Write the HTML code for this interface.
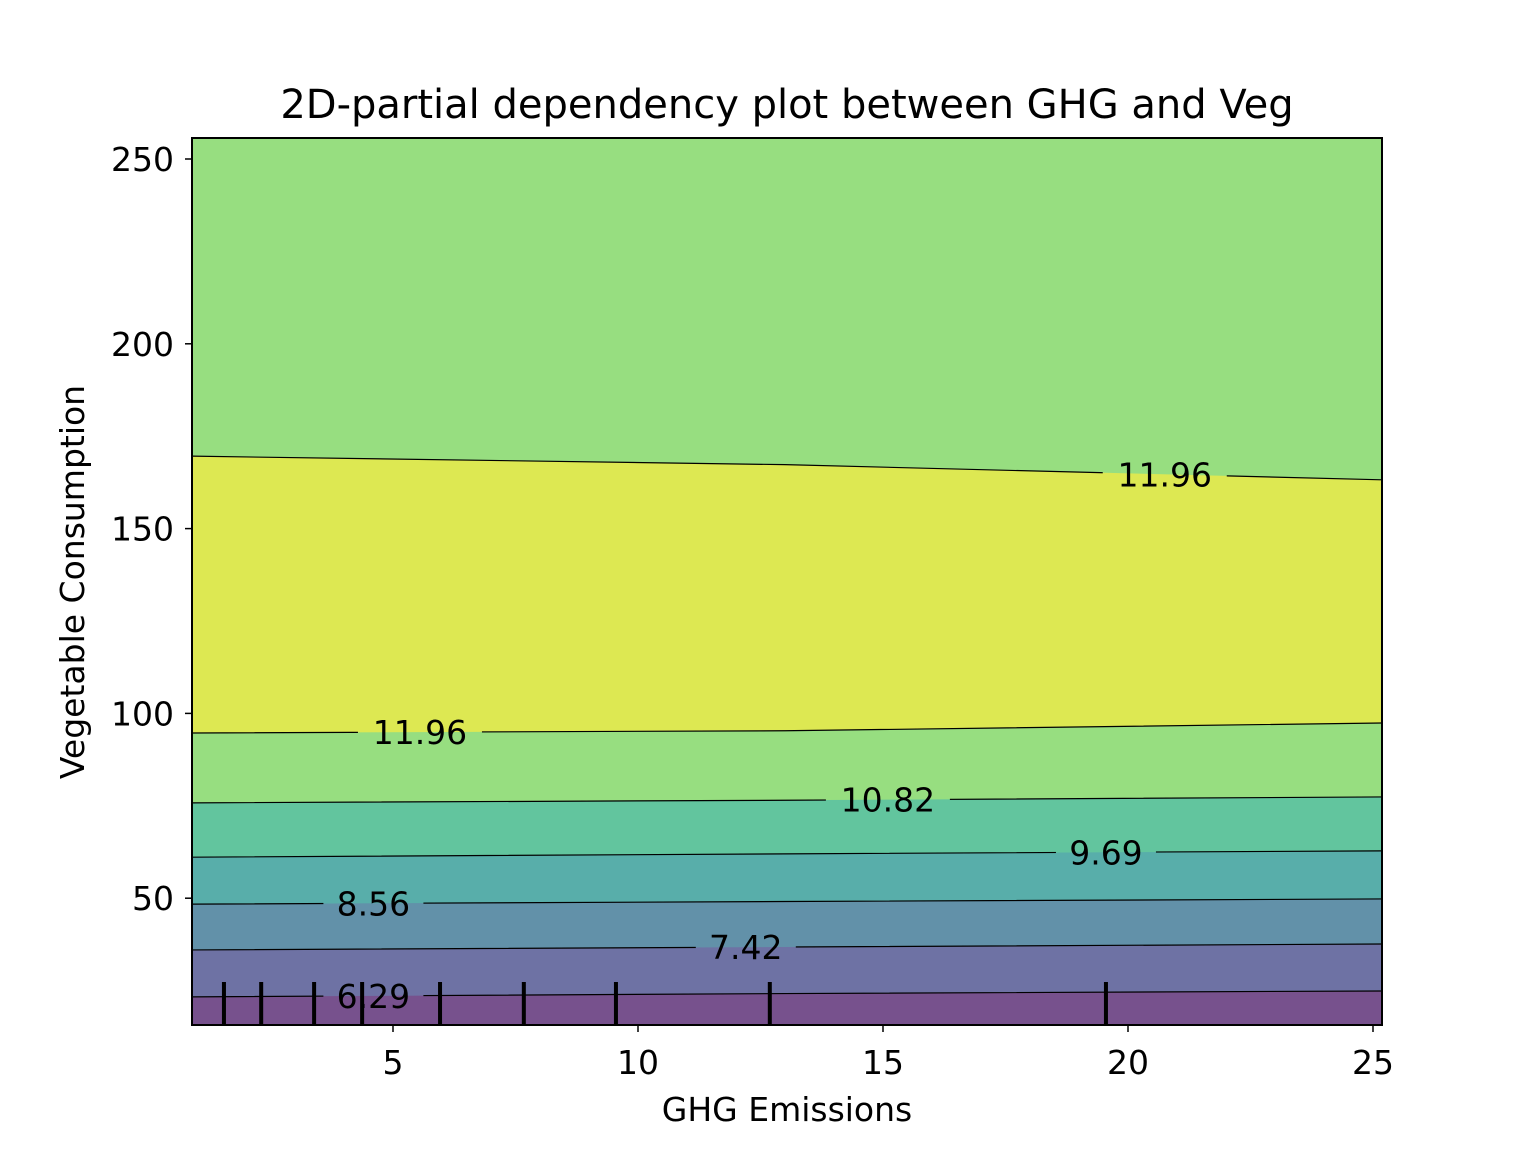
<!DOCTYPE html>
<html><head><meta charset="utf-8"><style>
body{margin:0;background:#fff}
text{font-family:"DejaVu Sans","Liberation Sans",sans-serif;fill:#000}
</style></head><body>
<svg id="chart" width="1536" height="1152" xmlns="http://www.w3.org/2000/svg">
<rect width="1536" height="1152" fill="#fff"/>
<defs><clipPath id="pc"><rect x="192" y="138" width="1190" height="887"/></clipPath>
<mask id="lm"><rect x="0" y="0" width="1536" height="1152" fill="#fff"/><g id="maskg"></g></mask></defs>
<g id="bands" clip-path="url(#pc)"></g>
<g id="lines" clip-path="url(#pc)" mask="url(#lm)"></g>
<g id="rug" clip-path="url(#pc)"></g>
<g id="labels"></g>
<rect x="192" y="138" width="1190" height="887" fill="none" stroke="#000" stroke-width="2"/>
<g id="axes"></g>
<text x="787" y="118" font-size="40" text-anchor="middle">2D-partial dependency plot between GHG and Veg</text>
<text x="787" y="1121" font-size="33" text-anchor="middle">GHG Emissions</text>
<text transform="translate(84,582) rotate(-90)" font-size="33" text-anchor="middle">Vegetable Consumption</text>
</svg>
<script>
const xTicks=[5,10,15,20,25];
const yTicks=[50,100,150,200,250];
const contourLevels=["6.29","7.42","8.56","9.69","10.82","11.96","11.96"];
const contourX=[0.9,13,25.18];
const contourY=[[23.3,24.2,24.9],[36.0,36.8,37.6],[48.4,49.1,49.8],[61.1,62.0,62.8],[75.8,76.5,77.4],[94.7,95.3,97.4],[169.6,167.3,163.2]];
const bandColors=["#6e72a4","#6291a9","#58aeaa","#62c59e","#97de80","#dde852","#97de80"];
const labelX=[4.6,12.2,4.6,19.55,15.1,5.55,20.75];
const rugX=[1.55,2.31,3.39,4.37,5.96,7.67,9.55,12.69,19.55];
const NS="http://www.w3.org/2000/svg";
const X=v=>393+(v-5)*49, Y=v=>159+(250-v)*3.696;
function mk(t,a,p){const e=document.createElementNS(NS,t);for(const k in a)e.setAttribute(k,a[k]);p.appendChild(e);return e;}
const bands=document.getElementById('bands'),lines=document.getElementById('lines'),labels=document.getElementById('labels'),maskg=document.getElementById('maskg'),rug=document.getElementById('rug'),axes=document.getElementById('axes');
let bg=mk('rect',{x:192,y:138,width:1190,height:887,fill:'#77518d'},bands);


function interp(ys,xv){for(let i=0;i<contourX.length-1;i++){if(xv<=contourX[i+1]){const t=(xv-contourX[i])/(contourX[i+1]-contourX[i]);return ys[i]+t*(ys[i+1]-ys[i]);}}return ys[ys.length-1];}
contourY.forEach((ys,i)=>{
  const pts=contourX.map((x,j)=>X(x)+','+Y(ys[j])).join(' ');
  const poly=mk('polygon',{points:pts+' '+X(25.18)+',138 '+X(0.9)+',138',fill:bandColors[i]},bands);
  
  
  const pl=mk('polyline',{points:pts,fill:'none',stroke:'#000','stroke-width':1.2},lines);
  
  
  const lx=X(labelX[i]),ly=Y(interp(ys,labelX[i]));
  const hw=contourLevels[i].length>4?62:50;
  mk('rect',{x:lx-hw,y:ly-15,width:hw*2,height:30,fill:'#000'},maskg);
  const t=mk('text',{x:lx,y:ly+12,'font-size':33,'text-anchor':'middle'},labels);
  t.textContent=contourLevels[i];
  
  
});
rugX.forEach((v,i)=>{
  const l=mk('line',{x1:X(v),x2:X(v),y1:982,y2:1025,stroke:'#000','stroke-width':4},rug);
  
  
});
xTicks.forEach(v=>{
  const l=mk('line',{x1:X(v),x2:X(v),y1:1025,y2:1032,stroke:'#000','stroke-width':1.5},axes);
  
  
  const t=mk('text',{x:X(v),y:1074,'font-size':33,'text-anchor':'middle'},axes);
  t.textContent=v;
  
  
});
yTicks.forEach(v=>{
  const l=mk('line',{x1:185,x2:192,y1:Y(v),y2:Y(v),stroke:'#000','stroke-width':1.5},axes);
  
  
  const t=mk('text',{x:174,y:Y(v)+12,'font-size':33,'text-anchor':'end'},axes);
  t.textContent=v;
  
  
});
</script>
</body></html>
